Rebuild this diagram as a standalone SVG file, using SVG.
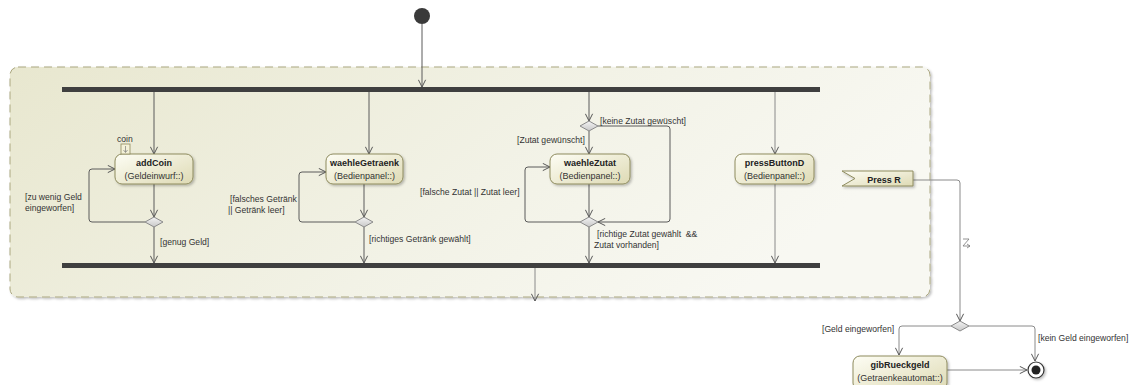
<svg xmlns="http://www.w3.org/2000/svg" width="1135" height="385" viewBox="0 0 1135 385">
  <defs>
    <linearGradient id="regionFill" x1="0" y1="0" x2="1" y2="0.3">
      <stop offset="0" stop-color="#e8e7cf"/>
      <stop offset="0.6" stop-color="#f2f2e6"/>
      <stop offset="1" stop-color="#f8f8f2"/>
    </linearGradient>
    <linearGradient id="nodeFill" x1="0" y1="0" x2="1" y2="1">
      <stop offset="0" stop-color="#fdfdf4"/>
      <stop offset="1" stop-color="#dedab4"/>
    </linearGradient>
    <linearGradient id="diamondFill" x1="0" y1="0" x2="0" y2="1">
      <stop offset="0" stop-color="#f4f4f4"/>
      <stop offset="1" stop-color="#c8c8c8"/>
    </linearGradient>
    <filter id="shadow" x="-10%" y="-10%" width="130%" height="140%">
      <feDropShadow dx="1.5" dy="1.5" stdDeviation="1" flood-color="#000" flood-opacity="0.25"/>
    </filter>
    <marker id="arrow" viewBox="0 0 10 10" refX="9" refY="5" markerWidth="9" markerHeight="9" orient="auto" markerUnits="userSpaceOnUse">
      <path d="M1,1 L9,5 L1,9" fill="none" stroke="#555" stroke-width="1.1"/>
    </marker>
  </defs>
  <style>
    .edge { fill: none; stroke: #5a5a5a; stroke-width: 1; }
    .edge-light { fill: none; stroke: #8a8a8a; stroke-width: 1; }
    .action { fill: url(#nodeFill); stroke: #8e8b5e; stroke-width: 1; filter: url(#shadow); }
    .bar { fill: #3f3f3f; }
    .diamond { fill: url(#diamondFill); stroke: #8a8a8a; stroke-width: 1; }
    .title { font-family: "Liberation Sans", Arial, sans-serif; font-size: 9px; font-weight: bold; fill: #222; text-anchor: middle; }
    .sub { font-family: "Liberation Sans", Arial, sans-serif; font-size: 9px; fill: #333; text-anchor: middle; }
    .lbl { font-family: "Liberation Sans", Arial, sans-serif; font-size: 8.6px; fill: #333; white-space: pre; }
  </style>

  <!-- interruptible region -->
  <g id="region">
    <rect x="10" y="67" width="920" height="230" rx="8" fill="url(#regionFill)" stroke="#aba780" stroke-width="1" stroke-dasharray="8,5" filter="url(#shadow)"/>
  </g>

  <!-- initial node -->
  <g id="initial">
    <circle cx="422" cy="16" r="8" fill="#3a3a3a"/>
  </g>

  <!-- fork and join bars -->
  <g id="fork">
    <rect class="bar" x="62" y="87" width="758" height="5"/>
  </g>
  <g id="join">
    <rect class="bar" x="62" y="263" width="758" height="5"/>
  </g>

  <!-- connectors -->
  <g id="connectors">
    <path class="edge" d="M422,24 V87" marker-end="url(#arrow)"/>
    <!-- addCoin branch -->
    <path class="edge" d="M154,92 V154" marker-end="url(#arrow)"/>
    <path class="edge" d="M154,184 V217" marker-end="url(#arrow)"/>
    <path class="edge" d="M145,222 H92 Q89,222 89,219 V172 Q89,169 92,169 H115" marker-end="url(#arrow)"/>
    <path class="edge" d="M154,227 V263" marker-end="url(#arrow)"/>
    <!-- waehleGetraenk branch -->
    <path class="edge" d="M369,92 V154" marker-end="url(#arrow)"/>
    <path class="edge" d="M364,184 V217" marker-end="url(#arrow)"/>
    <path class="edge" d="M355,222 H302 Q299,222 299,219 V175 Q299,172 302,172 H326" marker-end="url(#arrow)"/>
    <path class="edge" d="M364,227 V263" marker-end="url(#arrow)"/>
    <!-- waehleZutat branch -->
    <path class="edge" d="M589,92 V121" marker-end="url(#arrow)"/>
    <path class="edge" d="M589,131 V154" marker-end="url(#arrow)"/>
    <path class="edge" d="M598,126 H667 Q670,126 670,129 V219 Q670,222 667,222 H598" marker-end="url(#arrow)"/>
    <path class="edge" d="M589,184 V217" marker-end="url(#arrow)"/>
    <path class="edge" d="M580,222 H528 Q525,222 525,219 V170 Q525,167 528,167 H550" marker-end="url(#arrow)"/>
    <path class="edge" d="M589,227 V263" marker-end="url(#arrow)"/>
    <!-- pressButtonD branch -->
    <path class="edge-light" d="M775,92 V154" marker-end="url(#arrow)"/>
    <path class="edge-light" d="M775,184 V263" marker-end="url(#arrow)"/>
    <!-- join output -->
    <path class="edge-light" d="M535,268 V301" marker-end="url(#arrow)"/>
    <!-- interrupting edge from Press R -->
    <path class="edge-light" d="M913,180 H957 Q960,180 960,183 V321" marker-end="url(#arrow)"/>
    <path d="M963,239 H969 L963,246 H970 M967,244 L970,246 L967,248" fill="none" stroke="#777" stroke-width="0.8"/>
    <!-- refund decision -->
    <path class="edge-light" d="M951,326 H902 Q899,326 899,329 V355" marker-end="url(#arrow)"/>
    <path class="edge-light" d="M969,326 H1032 Q1035,326 1035,329 V361" marker-end="url(#arrow)"/>
    <path class="edge-light" d="M947,370 H1027" marker-end="url(#arrow)"/>
  </g>

  <!-- decision nodes -->
  <g id="decAddCoin"><path class="diamond" d="M145,222 L154,217 L163,222 L154,227 Z"/></g>
  <g id="decGetraenk"><path class="diamond" d="M355,222 L364,217 L373,222 L364,227 Z"/></g>
  <g id="decZutatTop"><path class="diamond" d="M580,126 L589,121 L598,126 L589,131 Z"/></g>
  <g id="decZutatBottom"><path class="diamond" d="M580,222 L589,217 L598,222 L589,227 Z"/></g>
  <g id="decRefund"><path class="diamond" d="M951,326 L960,321 L969,326 L960,331 Z"/></g>

  <!-- actions -->
  <g id="addCoin">
    <rect class="action" x="115" y="154" width="78" height="30" rx="7"/>
    <text class="title" x="154" y="166">addCoin</text>
    <text class="sub" x="154" y="179">(Geldeinwurf::)</text>
    <rect x="121" y="144" width="9" height="10" fill="#f3f1d8" stroke="#8e8b5e" stroke-width="0.8"/>
    <path d="M125.5,146 V152 M123.5,150 L125.5,152.5 L127.5,150" fill="none" stroke="#666" stroke-width="0.6"/>
    <text class="lbl" x="117" y="142">coin</text>
  </g>
  <g id="waehleGetraenk">
    <rect class="action" x="326" y="154" width="77" height="30" rx="7"/>
    <text class="title" x="364.5" y="166">waehleGetraenk</text>
    <text class="sub" x="364.5" y="179">(Bedienpanel::)</text>
  </g>
  <g id="waehleZutat">
    <rect class="action" x="550" y="154" width="80" height="30" rx="7"/>
    <text class="title" x="590" y="166">waehleZutat</text>
    <text class="sub" x="590" y="179">(Bedienpanel::)</text>
  </g>
  <g id="pressButtonD">
    <rect class="action" x="735" y="154" width="79" height="30" rx="7"/>
    <text class="title" x="774.5" y="166">pressButtonD</text>
    <text class="sub" x="774.5" y="179">(Bedienpanel::)</text>
  </g>
  <g id="pressR">
    <path class="action" d="M842,171 H913 V186 H842 L855,178.5 Z"/>
    <text class="title" x="884" y="183">Press R</text>
  </g>
  <g id="gibRueckgeld">
    <rect class="action" x="853" y="356" width="94" height="34" rx="7"/>
    <text class="title" x="900" y="368">gibRueckgeld</text>
    <text class="sub" x="900" y="381">(Getraenkeautomat::)</text>
  </g>

  <!-- final node -->
  <g id="final">
    <circle cx="1036" cy="370" r="8" fill="#fff" stroke="#333" stroke-width="1.2" filter="url(#shadow)"/>
    <circle cx="1036" cy="370" r="4.5" fill="#222"/>
  </g>

  <!-- guard labels -->
  <g id="guards">
    <text class="lbl" x="25" y="200">[zu wenig Geld</text>
    <text class="lbl" x="25" y="211">eingeworfen]</text>
    <text class="lbl" x="160" y="245">[genug Geld]</text>
    <text class="lbl" x="230" y="202">[falsches Getränk</text>
    <text class="lbl" x="228" y="213">|| Getränk leer]</text>
    <text class="lbl" x="369" y="242">[richtiges Getränk gewählt]</text>
    <text class="lbl" x="600" y="124">[keine Zutat gewüscht]</text>
    <text class="lbl" x="517" y="143">[Zutat gewünscht]</text>
    <text class="lbl" x="420" y="195">[falsche Zutat || Zutat leer]</text>
    <text class="lbl" x="597" y="237">[richtige Zutat gewählt  &amp;&amp;</text>
    <text class="lbl" x="594" y="248">Zutat vorhanden]</text>
    <text class="lbl" x="822" y="332">[Geld eingeworfen]</text>
    <text class="lbl" x="1038" y="341">[kein Geld eingeworfen]</text>
  </g>
</svg>
